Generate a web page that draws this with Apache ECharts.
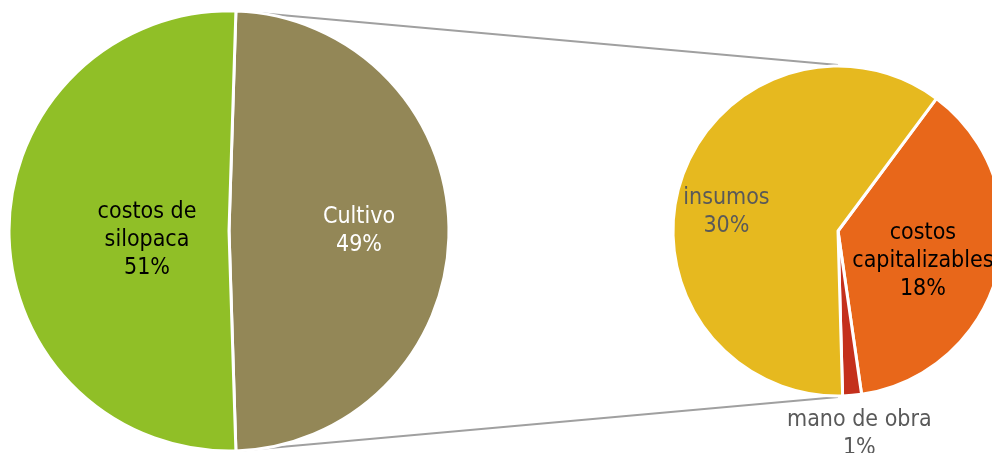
<!DOCTYPE html>
<html>
    <head>
        <meta charset="UTF-8">
        <title>costos</title>
        <script src="https://cdn.jsdelivr.net/npm/echarts@6/dist/echarts.min.js"></script>
        <style>
            html, body {margin: 0; padding: 0; background: #fff;}
            #main {width: 992px; height: 453px;}
        </style>
    </head>
    <body>
        <div id="main"></div>
        <script type="text/javascript">
            // pie principal (% del total)
            let mainNames = ['Cultivo', 'costos de\nsilopaca'];
            let mainValues = [49, 51];
            let mainColors = ['#938757', '#90bf27'];

            // pie secundario: desglose de Cultivo (% del total)
            let subNames = ['costos\ncapitalizables', 'mano de obra', 'insumos'];
            let subValues = [18.4, 0.9, 29.7];
            let subColors = ['#e8671a', '#c4301c', '#e6b91f'];

            let font = "'DejaVu Sans Condensed', 'DejaVu Sans', sans-serif";
            let fontSize = 23;

            let c1 = [229, 231], r1 = 220;
            let c2 = [838, 231], r2 = 165;

            let total = mainValues[0];
            let start1 = total / (mainValues[0] + mainValues[1]) * 360 / 2;
            let start2 = 53.4;

            let dom = document.getElementById("main");
            let myChart = echarts.init(dom, null, {renderer: 'canvas'});

            function pct(v) {
                return Math.round(v) + '%';
            }

            let mainLabels = [
                {color: '#ffffff', offset: [17, 0]},
                {color: '#000000', offset: [31, 9]}
            ];
            let subLabels = [
                {color: '#000000', offset: [2, 9]},
                {color: '#595959', offset: [14, 118]},
                {color: '#595959', offset: [-30, 7]}
            ];

            let data1 = mainNames.map(function (n, i) {
                return {
                    name: n, value: mainValues[i],
                    itemStyle: {color: mainColors[i]},
                    label: mainLabels[i]
                };
            });
            let data2 = subNames.map(function (n, i) {
                return {
                    name: n, value: subValues[i],
                    itemStyle: {color: subColors[i]},
                    label: subLabels[i]
                };
            });

            // lineas de union entre los dos pies
            let a = start1 * Math.PI / 180;
            let p1 = [c1[0] + r1 * Math.cos(a), c1[1] - r1 * Math.sin(a)];
            let p2 = [c1[0] + r1 * Math.cos(a), c1[1] + r1 * Math.sin(a)];
            let q1 = [c2[0], c2[1] - r2 - 1];
            let q2 = [c2[0], c2[1] + r2 + 1];

            let labelBase = {
                show: true,
                position: 'inside',
                fontFamily: font,
                fontSize: fontSize,
                lineHeight: 28,
                align: 'center',
                formatter: function (p) {
                    return p.name + '\n' + pct(p.value);
                }
            };

            let option = {
                animation: false,
                graphic: [
                    {type: 'line', z: 0, shape: {x1: p1[0], y1: p1[1], x2: q1[0], y2: q1[1]},
                        style: {stroke: '#a0a0a0', lineWidth: 2}},
                    {type: 'line', z: 0, shape: {x1: p2[0], y1: p2[1], x2: q2[0], y2: q2[1]},
                        style: {stroke: '#a0a0a0', lineWidth: 2}}
                ],
                series: [
                    {
                        type: 'pie',
                        z: 5,
                        center: c1,
                        radius: r1,
                        startAngle: start1,
                        clockwise: true,
                        silent: true,
                        itemStyle: {borderColor: '#ffffff', borderWidth: 3},
                        label: labelBase,
                        labelLine: {show: false},
                        data: data1
                    },
                    {
                        type: 'pie',
                        z: 5,
                        center: c2,
                        radius: r2,
                        startAngle: start2,
                        clockwise: true,
                        silent: true,
                        itemStyle: {borderColor: '#ffffff', borderWidth: 3},
                        label: labelBase,
                        labelLine: {show: false},
                        data: data2
                    }
                ]
            };
            if (option && typeof option === "object") {
                myChart.setOption(option, true);
            }
        </script>
    </body>
</html>
